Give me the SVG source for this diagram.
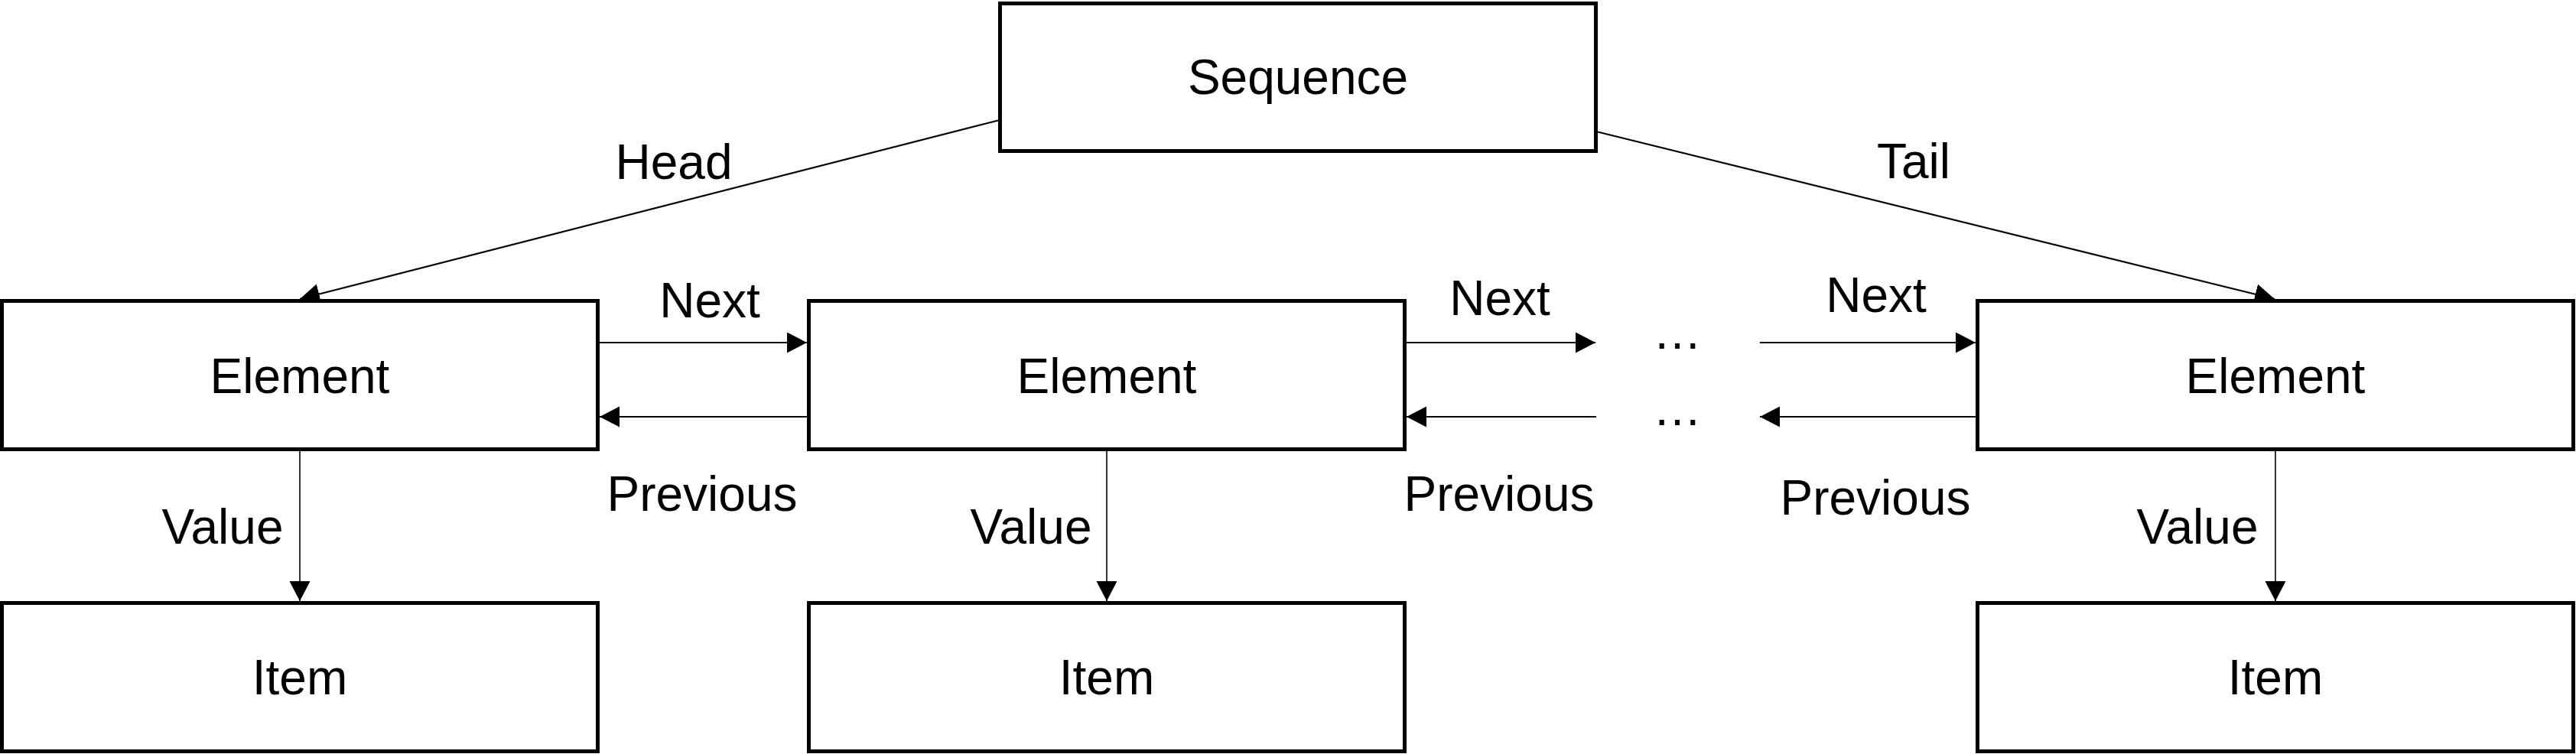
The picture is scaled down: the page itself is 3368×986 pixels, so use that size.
<svg xmlns="http://www.w3.org/2000/svg" width="3368" height="986" viewBox="0 0 3368 986">
<style>
.box{fill:#fff;stroke:#000;stroke-width:5}
.t{font-family:"Liberation Sans",Arial,sans-serif;font-size:64px;fill:#000;text-anchor:middle}
.c{stroke:#000;stroke-width:2.2;fill:none}
.v{stroke:#000;stroke-width:1.6;fill:none}
</style>
<defs>
<marker id="ah" markerUnits="userSpaceOnUse" markerWidth="27" markerHeight="28" refX="26" refY="13.5" orient="auto" viewBox="0 0 27 28">
<path d="M0,0 L26,13.5 L0,27 z" fill="#000"/>
</marker>
</defs>
<rect width="3368" height="986" fill="#fff"/>
<g id="connectors">
<line class="c" x1="1307" y1="157" x2="392" y2="391" marker-end="url(#ah)"/>
<line class="c" x1="2087" y1="172" x2="2974" y2="391" marker-end="url(#ah)"/>
<line class="c" x1="784" y1="448" x2="1055" y2="448" marker-end="url(#ah)"/>
<line class="c" x1="1055" y1="545" x2="784" y2="545" marker-end="url(#ah)"/>
<line class="c" x1="1839" y1="448" x2="2086" y2="448" marker-end="url(#ah)"/>
<line class="c" x1="2087" y1="545" x2="1839" y2="545" marker-end="url(#ah)"/>
<line class="c" x1="2301" y1="448" x2="2583" y2="448" marker-end="url(#ah)"/>
<line class="c" x1="2583" y1="545" x2="2301" y2="545" marker-end="url(#ah)"/>
<line class="v" x1="392" y1="590" x2="392" y2="786" marker-end="url(#ah)"/>
<line class="v" x1="1447" y1="590" x2="1447" y2="786" marker-end="url(#ah)"/>
<line class="v" x1="2975" y1="590" x2="2975" y2="786" marker-end="url(#ah)"/>
<text class="t" x="881" y="234">Head</text>
<text class="t" x="2502" y="233">Tail</text>
<text class="t" x="928" y="415">Next</text>
<text class="t" x="1961" y="412">Next</text>
<text class="t" x="2453" y="408">Next</text>
<text class="t" x="918" y="668">Previous</text>
<text class="t" x="1960" y="668">Previous</text>
<text class="t" x="2452" y="673">Previous</text>
<text class="t" x="291" y="711">Value</text>
<text class="t" x="1348" y="711">Value</text>
<text class="t" x="2873" y="711">Value</text>
<text class="t" x="2193" y="456">…</text>
<text class="t" x="2193" y="556">…</text>
</g>
<g id="sequence"><rect class="box" x="1307.5" y="4.5" width="779" height="193"/><text class="t" x="1697" y="123">Sequence</text></g>
<g id="element1"><rect class="box" x="2.5" y="393.5" width="779" height="194"/><text class="t" x="392" y="514">Element</text></g>
<g id="element2"><rect class="box" x="1057.5" y="393.5" width="779" height="194"/><text class="t" x="1447" y="514">Element</text></g>
<g id="element3"><rect class="box" x="2585.5" y="393.5" width="779" height="194"/><text class="t" x="2975" y="514">Element</text></g>
<g id="item1"><rect class="box" x="2.5" y="788.5" width="779" height="194"/><text class="t" x="392" y="908">Item</text></g>
<g id="item2"><rect class="box" x="1057.5" y="788.5" width="779" height="194"/><text class="t" x="1447" y="908">Item</text></g>
<g id="item3"><rect class="box" x="2585.5" y="788.5" width="779" height="194"/><text class="t" x="2975" y="908">Item</text></g>
</svg>
